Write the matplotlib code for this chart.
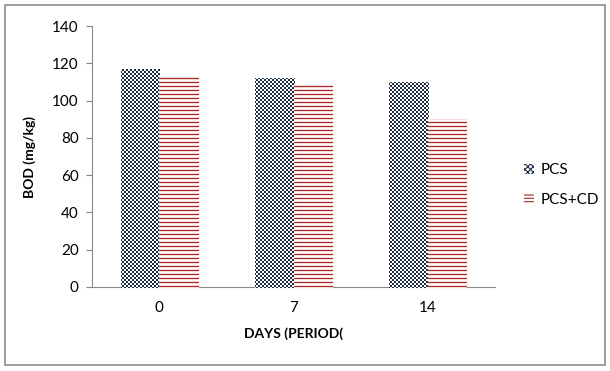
import numpy as np
import matplotlib
matplotlib.use('Agg')
import matplotlib.pyplot as plt
from matplotlib.patches import Patch, Rectangle

days = ['0', '7', '14']
pcs = [117, 112, 110]
pcs_cd = [113, 109, 90]
yticks = [0, 20, 40, 60, 80, 100, 120, 140]

plt.rcParams['font.family'] = ['Lato', 'DejaVu Sans']
plt.rcParams['hatch.linewidth'] = 0.8

W, H = 610, 371
fig = plt.figure(figsize=(W / 100, H / 100), dpi=100)
ax = fig.add_axes([92 / W, 1 - 287 / H, 403 / W, 261 / H])

# figure border
fig.patches.append(Rectangle((5 / W, 6 / H), 600 / W, 360 / H, transform=fig.transFigure,
                             fill=False, edgecolor='#8c8c8c', linewidth=1.2))

x = np.arange(len(days))
w = 0.287
navy = '#1f2d45'
red = '#a52a2a'

b1 = ax.bar(x - w / 2, pcs, w, color='white', linewidth=0)
b2 = ax.bar(x + w / 2, pcs_cd, w, color='white', linewidth=0)

ax.set_xlim(-0.5, 2.5)
ax.set_ylim(0, 140)

# pixel patterns at figure resolution: checker for PCS, stripes for PCS+CD
yy, xx = np.mgrid[0:H, 0:W]
chk = ((xx // 2 + yy // 2) % 2) == 1
checker = np.ones((H, W, 3))
checker[chk] = matplotlib.colors.to_rgb(navy)
stripes = np.ones((H, W, 3))
r = yy % 4
stripes[r == 0] = matplotlib.colors.to_rgb(red)
stripes[r == 1] = (0.97, 0.86, 0.86)
stripes[r == 3] = (0.97, 0.86, 0.86)

for bar in b1:
    im = fig.figimage(checker, origin='lower', zorder=1)
    im.set_clip_path(bar)
for bar in b2:
    im = fig.figimage(stripes, origin='lower', zorder=1)
    im.set_clip_path(bar)

ax.set_xticks(x)
ax.set_xticklabels(days)
ax.set_yticks(yticks)
ax.tick_params(axis='x', length=0, pad=10, labelsize=11, colors='black')
ax.tick_params(axis='y', length=4.5, pad=5, labelsize=11, color='#888888')
for s in ['top', 'right']:
    ax.spines[s].set_visible(False)
for s in ['left', 'bottom']:
    ax.spines[s].set_color('#888888')

ax.set_xlabel('DAYS (PERIOD(', fontsize=10, fontweight='bold', labelpad=9)
ax.set_ylabel('BOD (mg/kg)', fontsize=10, fontweight='bold', labelpad=12)

handles = [Patch(facecolor='white', edgecolor=navy, hatch='xxxxxx', linewidth=0, label='PCS'),
           Patch(facecolor='white', edgecolor=red, hatch='-----', linewidth=0, label='PCS+CD')]
fig.legend(handles=handles, loc='center left', bbox_to_anchor=(510 / W, 1 - 185 / H),
           frameon=False, fontsize=11, handlelength=0.7, handleheight=0.7,
           handletextpad=0.4, labelspacing=1.0)

fig.savefig('out.png', dpi=100)
